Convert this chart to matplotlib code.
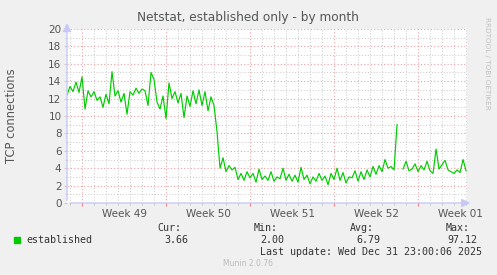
import numpy as np
import matplotlib
matplotlib.use("Agg")
import matplotlib.pyplot as plt
from matplotlib.ticker import MultipleLocator, NullFormatter
from matplotlib.transforms import blended_transform_factory

# ---- data (days relative to Monday 2025-12-01 00:00) ----
t_start = -1.25
t_step = 0.25
established = [
    12.4, 13.4, 12.8, 13.9, 12.7, 14.5, 10.8, 12.9, 12.2, 12.8,
    11.8, 12.2, 11.0, 12.5, 11.4, 15.1, 12.3, 12.9, 11.6, 12.6,
    10.2, 12.8, 12.4, 13.2, 12.6, 13.1, 12.9, 11.2, 15.0, 14.2,
    11.6, 10.8, 12.3, 9.7, 13.8, 12.0, 12.8, 11.5, 12.6, 9.8,
    12.3, 11.1, 12.9, 11.4, 13.0, 11.2, 12.8, 10.6, 12.2, 11.2,
    8.2, 4.0, 5.2, 3.6, 4.3, 3.8, 4.1, 2.7, 3.4, 2.6,
    3.6, 2.9, 3.4, 2.4, 3.9, 2.7, 3.1, 2.6, 3.6, 2.5,
    3.0, 2.8, 4.0, 2.6, 3.3, 2.5, 3.2, 2.4, 4.1, 2.7,
    3.2, 2.2, 3.0, 2.5, 3.4, 2.6, 3.1, 2.1, 3.4, 2.7,
    4.0, 2.6, 3.5, 2.3, 3.0, 2.9, 3.7, 2.5, 3.6, 2.7,
    3.8, 3.0, 4.2, 3.3, 4.3, 3.6, 5.0, 4.0, 4.2, 3.8,
    9.0, np.nan, 3.9, 4.8, 3.7, 3.9, 4.5, 3.6, 4.3, 3.8,
    4.8, 3.7, 3.4, 6.2, 3.9, 4.4, 4.9, 3.8, 3.6, 3.4,
    3.8, 3.5, 5.0, 3.7,
]
week_labels = ["Week 49", "Week 50", "Week 51", "Week 52", "Week 01"]
week_starts = [0, 7, 14, 21, 28]
stats_names = ["Cur:", "Min:", "Avg:", "Max:"]
stats_values = ["3.66", "2.00", "6.79", "97.12"]
series_name = "established"
title = "Netstat, established only - by month"
ylabel = "TCP connections"
last_update = "Last update: Wed Dec 31 23:00:06 2025"
footer = "Munin 2.0.76"
side_text = "RRDTOOL / TOBI OETIKER"

# ---- figure ----
W, H = 497, 275
fig = plt.figure(figsize=(W / 100, H / 100), dpi=100, facecolor="#F0F0F0")
ax = fig.add_axes([67 / W, 72 / H, 400 / W, 174 / H])
ax.set_facecolor("white")

x = t_start + t_step * np.arange(len(established))
ax.plot(x, established, color="#00CC00", lw=0.85, zorder=3)

ax.set_xlim(t_start, 32.08)
ax.set_ylim(0, 20)

ax.xaxis.set_major_locator(MultipleLocator(7))
ax.xaxis.set_minor_locator(MultipleLocator(1))
ax.yaxis.set_major_locator(MultipleLocator(2))
ax.yaxis.set_minor_locator(MultipleLocator(1))
ax.xaxis.set_major_formatter(NullFormatter())

ax.grid(which="major", color="#F0A0A0", lw=0.8, ls=(0, (1, 2)), zorder=1)
ax.grid(which="minor", color="#C8C8C8", lw=0.7, ls=(0, (1, 2)), zorder=0)

ax.tick_params(axis="x", which="major", length=2, width=0.8, color="#F08080", labelbottom=False)
ax.tick_params(axis="x", which="minor", length=1.5, width=0.6, color="#BBBBBB")
ax.tick_params(axis="y", which="major", length=2, width=0.8, color="#CCCCCC",
               labelsize=7.5, labelcolor="#555555", pad=2)
ax.tick_params(axis="y", which="minor", length=1.5, width=0.6, color="#CCCCCC")

for s in ax.spines.values():
    s.set_visible(False)

# axis lines with arrows
arrow_kw = dict(arrowstyle="-|>,head_length=0.5,head_width=0.25", color="#C8C8F8", lw=1.0)
ax.annotate("", xy=(0, 1.05), xycoords="axes fraction", xytext=(0, 0),
            textcoords="axes fraction", arrowprops=arrow_kw, annotation_clip=False)
ax.annotate("", xy=(1.015, 0), xycoords="axes fraction", xytext=(0, 0),
            textcoords="axes fraction", arrowprops=arrow_kw, annotation_clip=False)

# week labels centered on each week
trans = blended_transform_factory(ax.transData, ax.transAxes)
for ws, lab in zip(week_starts, week_labels):
    ax.text(ws + 3.5, -0.035, lab, transform=trans, ha="center", va="top",
            fontsize=7.5, color="#555555", clip_on=False)

fig.text(248 / W, 1 - 18 / H, title, ha="center", va="center", fontsize=8.7, color="#555555")
fig.text(12 / W, 1 - 116 / H, ylabel, ha="center", va="center", rotation=90,
         fontsize=8.3, color="#555555")
fig.text(487 / W, 1 - 17 / H, side_text, ha="center", va="top", rotation=270,
         fontsize=5.2, color="#C0C0C0")

mono = "DejaVu Sans Mono"
fig.patches.append(plt.Rectangle((14 / W, 1 - 243 / H), 6 / W, 6 / H,
                                 transform=fig.transFigure, color="#00CC00"))
fig.text(26 / W, 1 - 240 / H, series_name, ha="left", va="center",
         family=mono, fontsize=7.2, color="#333333")
name_right = [181, 278, 374, 470]
val_right = [188, 284, 380, 477]
for nr, vr, n, v in zip(name_right, val_right, stats_names, stats_values):
    fig.text(nr / W, 1 - 228 / H, n, ha="right", va="center", family=mono,
             fontsize=7.2, color="#333333")
    fig.text(vr / W, 1 - 240 / H, v, ha="right", va="center", family=mono,
             fontsize=7.2, color="#333333")
fig.text(482 / W, 1 - 252 / H, last_update, ha="right", va="center", family=mono,
         fontsize=7.2, color="#333333")
fig.text(248 / W, 1 - 264 / H, footer, ha="center", va="center", fontsize=5.5,
         color="#BBBBBB")

fig.savefig("out.png", dpi=100, facecolor=fig.get_facecolor())
